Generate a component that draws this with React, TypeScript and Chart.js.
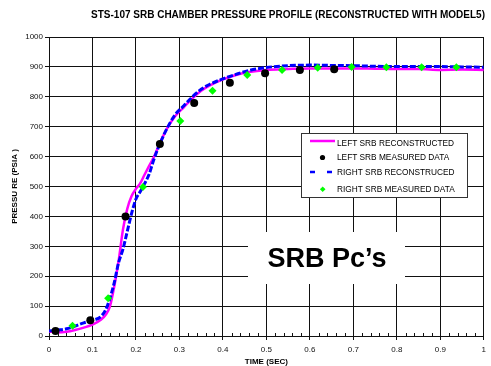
import React, { useEffect, useRef } from "react";
import { Chart, registerables } from "chart.js";

Chart.register(...registerables);

const TITLE = "STS-107 SRB CHAMBER PRESSURE PROFILE (RECONSTRUCTED WITH MODEL5)";
const X_TITLE = "TIME (SEC)";
const Y_TITLE = "PRESSU RE (PSIA )";
const ANNOTATION = "SRB Pc\u2019s";

const LEGEND_LABELS = [
  "LEFT SRB RECONSTRUCTED",
  "LEFT SRB MEASURED DATA",
  "RIGHT SRB RECONSTRUCED",
  "RIGHT SRB MEASURED DATA",
];

const curveTime = [0, 0.02, 0.04, 0.06, 0.08, 0.1, 0.12, 0.13, 0.14, 0.15, 0.16, 0.17, 0.18, 0.19, 0.2, 0.21, 0.22, 0.23, 0.24, 0.25, 0.27, 0.29, 0.31, 0.33, 0.35, 0.37, 0.4, 0.43, 0.46, 0.5, 0.55, 0.6, 0.65, 0.7, 0.75, 0.8, 0.85, 0.9, 0.95, 1.0];
const leftRecon = [15, 12, 14, 20, 28, 38, 55, 70, 98, 165, 250, 355, 425, 468, 492, 511, 540, 568, 595, 628, 690, 735, 765, 795, 820, 838, 858, 873, 883, 890, 893, 895, 895, 895, 894, 893, 893, 890, 891, 890];
const rightRecon = [17, 20, 24, 33, 44, 52, 66, 87, 125, 178, 245, 290, 350, 410, 458, 483, 510, 540, 585, 625, 690, 740, 770, 800, 825, 842, 860, 875, 888, 898, 904, 906, 905, 904, 902, 901, 901, 901, 900, 899];

const leftMeasTime = [0.015, 0.095, 0.176, 0.255, 0.334, 0.416, 0.497, 0.577, 0.656];
const leftMeas = [17, 53, 400, 642, 779, 847, 879, 890, 892];

const rightMeasTime = [0.054, 0.136, 0.216, 0.302, 0.376, 0.456, 0.536, 0.618, 0.696, 0.776, 0.857, 0.937];
const rightMeas = [34, 126, 498, 719, 820, 873, 890, 897, 900, 899, 899, 899];

const xTicks = [0, 0.1, 0.2, 0.3, 0.4, 0.5, 0.6, 0.7, 0.8, 0.9, 1];
const yTicks = [0, 100, 200, 300, 400, 500, 600, 700, 800, 900, 1000];

const FONT = "'Liberation Sans', Arial, sans-serif";
const MAGENTA = "#ff00ff";
const BLUE = "#0000ff";
const GREEN = "#00ff00";

const pairs = (xs: number[], ys: number[]) => xs.map((x, i) => ({ x, y: ys[i] }));

const overlayPlugin = {
  id: "overlay",
  afterDatasetsDraw(chart: any) {
    const ctx = chart.ctx;
    const xs = chart.scales.x;
    const area = chart.chartArea;
    ctx.save();
    // minor ticks on x axis (inside)
    ctx.strokeStyle = "#111";
    ctx.lineWidth = 1;
    for (let i = 0; i <= 50; i++) {
      if (i % 5 === 0) continue;
      const px = Math.round(xs.getPixelForValue(i * 0.02)) + 0.5;
      ctx.beginPath();
      ctx.moveTo(px, area.bottom);
      ctx.lineTo(px, area.bottom - 3);
      ctx.stroke();
    }

    // legend box
    const lx = 301, ly = 133, lw = 166, lh = 64;
    ctx.fillStyle = "#fff";
    ctx.fillRect(lx, ly, lw, lh);
    ctx.strokeStyle = "#333";
    ctx.strokeRect(lx + 0.5, ly + 0.5, lw, lh);
    const rows = [144, 157.5, 173, 189.5];
    ctx.font = `8.3px ${FONT}`;
    ctx.fillStyle = "#000";
    ctx.textBaseline = "middle";
    ctx.textAlign = "left";
    LEGEND_LABELS.forEach((t, i) => ctx.fillText(t, 337, rows[i]));
    // samples
    ctx.strokeStyle = MAGENTA;
    ctx.lineWidth = 2.5;
    ctx.beginPath();
    ctx.moveTo(310, 141);
    ctx.lineTo(335, 141);
    ctx.stroke();
    ctx.fillStyle = "#000";
    ctx.beginPath();
    ctx.arc(322.5, 157.5, 2.6, 0, Math.PI * 2);
    ctx.fill();
    ctx.strokeStyle = BLUE;
    ctx.lineWidth = 2.5;
    ctx.beginPath();
    ctx.moveTo(310, 172);
    ctx.lineTo(315, 172);
    ctx.moveTo(327, 172);
    ctx.lineTo(332, 172);
    ctx.stroke();
    ctx.fillStyle = GREEN;
    ctx.beginPath();
    ctx.moveTo(322.7, 186.5);
    ctx.lineTo(325.5, 189.3);
    ctx.lineTo(322.7, 192.1);
    ctx.lineTo(319.9, 189.3);
    ctx.closePath();
    ctx.fill();

    // annotation
    ctx.fillStyle = "#fff";
    ctx.fillRect(248, 232, 157, 52);
    ctx.fillStyle = "#000";
    ctx.font = `bold 27px ${FONT}`;
    ctx.textAlign = "center";
    ctx.textBaseline = "alphabetic";
    ctx.fillText(ANNOTATION, 327, 267);
    ctx.restore();
  },
  afterDraw(chart: any) {
    const ctx = chart.ctx;
    const area = chart.chartArea;
    ctx.save();
    ctx.fillStyle = "#000";
    ctx.textAlign = "center";
    ctx.textBaseline = "middle";
    ctx.font = `bold 10px ${FONT}`;
    ctx.fillText(TITLE, 288, 15);
    ctx.font = `bold 8px ${FONT}`;
    ctx.fillText(X_TITLE, (area.left + area.right) / 2, 362);
    ctx.translate(15, (area.top + area.bottom) / 2);
    ctx.rotate(-Math.PI / 2);
    ctx.fillText(Y_TITLE, 0, 0);
    ctx.restore();
  },
};

export default function App() {
  const ref = useRef<HTMLCanvasElement | null>(null);
  useEffect(() => {
    if (!ref.current) return;
    const chart = new Chart(ref.current, {
      type: "scatter",
      data: {
        datasets: [
          {
            label: LEGEND_LABELS[0],
            data: pairs(curveTime, leftRecon),
            showLine: true,
            borderColor: MAGENTA,
            borderWidth: 2.5,
            pointRadius: 0,
            cubicInterpolationMode: "monotone",
            order: 4,
          },
          {
            label: LEGEND_LABELS[1],
            data: pairs(leftMeasTime, leftMeas),
            showLine: false,
            pointStyle: "circle",
            pointRadius: 4,
            backgroundColor: "#000",
            borderColor: "#000",
            borderWidth: 0,
            order: 2,
          },
          {
            label: LEGEND_LABELS[2],
            data: pairs(curveTime, rightRecon),
            showLine: true,
            borderColor: BLUE,
            borderWidth: 3,
            borderDash: [6, 2],
            pointRadius: 0,
            cubicInterpolationMode: "monotone",
            order: 3,
          },
          {
            label: LEGEND_LABELS[3],
            data: pairs(rightMeasTime, rightMeas),
            showLine: false,
            pointStyle: "rectRot",
            pointRadius: 4,
            backgroundColor: GREEN,
            borderColor: GREEN,
            borderWidth: 0,
            order: 1,
          },
        ],
      },
      options: {
        responsive: false,
        animation: false,
        layout: { padding: { top: 37, right: 3, left: 0, bottom: 0 } },
        plugins: { legend: { display: false }, tooltip: { enabled: false }, title: { display: false } },
        scales: {
          x: {
            type: "linear",
            min: 0,
            max: 1,
            afterBuildTicks: (s: any) => {
              s.ticks = xTicks.map((v) => ({ value: v }));
            },
            afterFit: (s: any) => {
              s.height = 30;
            },
            ticks: {
              font: { size: 8, family: FONT },
              color: "#111",
              padding: 5,
              maxRotation: 0,
              autoSkip: false,
              callback: (v: any) => String(Number(Number(v).toFixed(1))),
            },
            grid: { color: "#111", lineWidth: 1, tickLength: 4 },
            border: { color: "#111", width: 1 },
          },
          y: {
            type: "linear",
            min: 0,
            max: 1000,
            afterBuildTicks: (s: any) => {
              s.ticks = yTicks.map((v) => ({ value: v }));
            },
            afterFit: (s: any) => {
              s.width = 49;
            },
            ticks: {
              font: { size: 8, family: FONT },
              color: "#111",
              padding: 2,
              autoSkip: false,
              callback: (v: any) => String(v),
            },
            grid: { color: "#111", lineWidth: 1, tickLength: 4 },
            border: { color: "#111", width: 1 },
          },
        },
      },
      plugins: [overlayPlugin],
    } as any);
    return () => chart.destroy();
  }, []);
  return (
    <canvas
      ref={ref}
      width={491}
      height={366}
      style={{ position: "fixed", left: 0, top: 0, width: 491, height: 366 }}
    />
  );
}
